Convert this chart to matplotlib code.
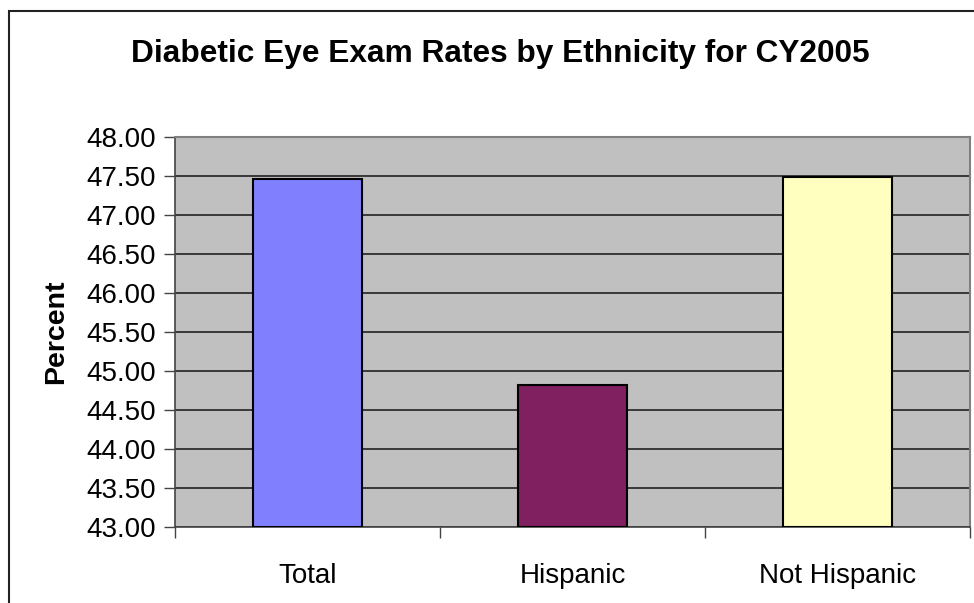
import matplotlib.pyplot as plt
import matplotlib.patches as mpatches

categories = ['Total', 'Hispanic', 'Not Hispanic']
rates = [47.46, 44.82, 47.49]
bar_colors = ['#8080FF', '#802060', '#FFFFC0']
yticks = [43.0, 43.5, 44.0, 44.5, 45.0, 45.5, 46.0, 46.5, 47.0, 47.5, 48.0]

plt.rcParams['font.family'] = ['Liberation Sans', 'DejaVu Sans']

W, H = 974, 603
fig = plt.figure(figsize=(W / 100, H / 100), dpi=100)

# chart border (only left and top visible in the reference)
fig.patches.append(mpatches.Rectangle((9 / W, -0.1), 1.2, 1 - 11 / H + 0.1,
                                      transform=fig.transFigure, fill=False,
                                      edgecolor='#222222', linewidth=1.5))

ax = fig.add_axes([175 / W, 1 - 527 / H, 795 / W, (527 - 137) / H])
ax.set_facecolor('#C0C0C0')

x = list(range(len(categories)))
ax.bar(x, [r - 43 for r in rates], bottom=43, width=0.41, color=bar_colors,
       edgecolor='black', linewidth=1.5, zorder=3)

ax.set_xlim(-0.5, len(categories) - 0.5)
ax.set_ylim(43, 48)
ax.set_yticks(yticks)
ax.set_yticklabels([f'{t:.2f}' for t in yticks], fontsize=20)
ax.yaxis.grid(True, color='#222222', linewidth=1.2, zorder=1)
ax.set_axisbelow(True)

ax.set_xticks(x)
ax.set_xticklabels(categories, fontsize=20)
ax.tick_params(axis='x', length=0, pad=26)
ax.set_xticks([-0.5, 0.5, 1.5, 2.5], minor=True)
ax.tick_params(axis='x', which='minor', length=8, width=1, color='#444444')
ax.tick_params(axis='y', length=8, width=1, color='#444444', pad=6)

for s in ['left', 'bottom']:
    ax.spines[s].set_color('#444444')
    ax.spines[s].set_linewidth(1.2)
for s in ['top', 'right']:
    ax.spines[s].set_color('#808080')
    ax.spines[s].set_linewidth(1.5)

ax.set_ylabel('Percent', fontsize=20.5, fontweight='bold', labelpad=12)
fig.text(500 / W, 1 - 54 / H, 'Diabetic Eye Exam Rates by Ethnicity for CY2005',
         ha='center', va='center', fontsize=22.75, fontweight='bold')

plt.savefig('out.png', dpi=100)
